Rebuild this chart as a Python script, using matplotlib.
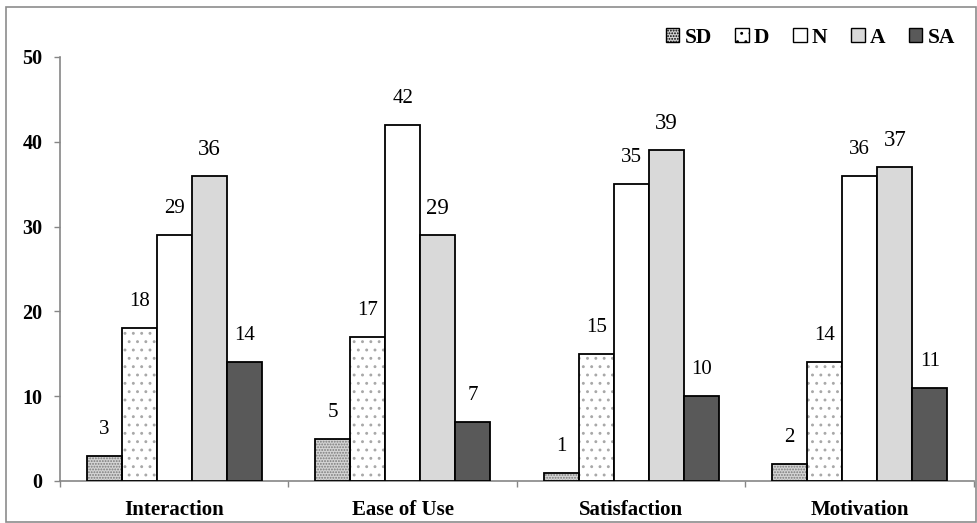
import matplotlib
matplotlib.use("Agg")
import matplotlib.pyplot as plt
import numpy as np
from matplotlib.patches import Patch, Rectangle

categories = ["Interaction", "Ease of Use", "Satisfaction", "Motivation"]
series = ["SD", "D", "N", "A", "SA"]
values = {
    "SD": [3, 5, 1, 2],
    "D": [18, 17, 15, 14],
    "N": [29, 42, 35, 36],
    "A": [36, 29, 39, 37],
    "SA": [14, 7, 10, 11],
}
y_ticks = [0, 10, 20, 30, 40, 50]

styles = {
    "SD": dict(face="#d4d4d4", hatch="......", hcolor="#7a7a7a"),
    "D": dict(face="white", hatch="..", hcolor="#a8a8a8"),
    "N": dict(face="white", hatch=None, hcolor=None),
    "A": dict(face="#d9d9d9", hatch=None, hcolor=None),
    "SA": dict(face="#595959", hatch=None, hcolor=None),
}
label_sizes = {"SD": 15, "D": 15, "N": 15, "A": 16.5, "SA": 15}

plt.rcParams["font.family"] = ["Liberation Serif", "DejaVu Serif"]
plt.rcParams["hatch.linewidth"] = 0.9

W, H = 978, 523
fig = plt.figure(figsize=(W / 100, H / 100), dpi=100)
ax = fig.add_axes([60 / W, 1 - 481 / H, 914 / W, (481 - 57) / H])

x = np.arange(len(categories))
n = len(series)
bw = 0.766 / n

for i, s in enumerate(series):
    st = styles[s]
    pos = x + (i - (n - 1) / 2) * bw
    if st["hatch"]:
        ax.bar(pos, values[s], width=bw, color=st["face"], hatch=st["hatch"],
               edgecolor=st["hcolor"], linewidth=0, zorder=2)
        ax.bar(pos, values[s], width=bw, fill=False, edgecolor="black",
               linewidth=1.3, zorder=3)
    else:
        ax.bar(pos, values[s], width=bw, color=st["face"], edgecolor="black",
               linewidth=1.3, zorder=3)
    for px, v in zip(pos, values[s]):
        ax.annotate(str(v), (px, v), xytext=(0, 19), textcoords="offset points",
                    ha="center", va="center", fontsize=label_sizes[s])

ax.set_xlim(-0.5, len(categories) - 0.5)
ax.set_ylim(0, 50)
ax.set_yticks(y_ticks)
ax.set_yticklabels([str(t) for t in y_ticks], fontsize=14.5, fontweight="bold")
ax.set_xticks(x)
ax.set_xticklabels(categories, fontsize=15, fontweight="bold")
ax.tick_params(axis="x", length=0, pad=14)
ax.set_xticks(np.arange(len(categories) + 1) - 0.5, minor=True)
ax.tick_params(axis="x", which="minor", length=4.5, color="#868686", width=1)
ax.tick_params(axis="y", length=4.5, color="#868686", width=1, pad=8)
for sp in ["top", "right"]:
    ax.spines[sp].set_visible(False)
for sp in ["left", "bottom"]:
    ax.spines[sp].set_color("#868686")
    ax.spines[sp].set_linewidth(1.2)

handles = []
for s in series:
    st = styles[s]
    handles.append(Patch(facecolor=st["face"], edgecolor="black",
                         hatch=st["hatch"], linewidth=1.0))
leg = fig.legend(handles, series, loc="center right",
                 bbox_to_anchor=(966 / W, 1 - 38 / H),
                 ncol=5, frameon=False, handlelength=0.62, handleheight=0.62,
                 handletextpad=0.25, columnspacing=1.1, borderpad=0,
                 prop={"weight": "bold", "size": 15.5})

fig.patches.append(Rectangle((6 / W, 1 / H), 970 / W, 515 / H,
                             transform=fig.transFigure, fill=False,
                             edgecolor="#8c8c8c", linewidth=1.2))

fig.savefig("out.png", dpi=100)
